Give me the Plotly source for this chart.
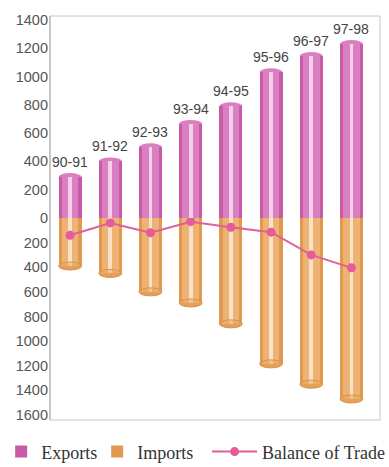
import plotly.graph_objects as go

years = ["90-91", "91-92", "92-93", "93-94", "94-95", "95-96", "96-97", "97-98"]
exports = [290, 400, 500, 665, 790, 1030, 1145, 1230]
imports = [390, 450, 600, 690, 860, 1185, 1350, 1470]
balance = [140, 40, 120, 30, 75, 115, 300, 405]   # deficit (plotted below zero)
top_ticks = [0, 200, 400, 600, 800, 1000, 1200, 1400]
bottom_ticks = [200, 400, 600, 800, 1000, 1200, 1400, 1600]

TOP_MAX = 1428
BOT_MAX = 1641
PANEL_PX = 202

x = list(range(len(years)))
W = 0.57

EXP_EDGE, EXP_MAIN, EXP_HI = "#c95aa6", "#da80c2", "#f4d0ea"
IMP_EDGE, IMP_MAIN, IMP_HI = "#e09a50", "#eeb274", "#fae2c8"

fig = go.Figure()

def cyl(vals, xa, ya, edge, main, hi, name):
    fig.add_trace(go.Bar(x=x, y=vals, width=W, marker=dict(color=edge, line=dict(width=0)),
                         xaxis=xa, yaxis=ya, name=name, showlegend=True, hoverinfo="skip",
                         legend="legend"))
    fig.add_trace(go.Bar(x=x, y=vals, width=W * 0.72, marker=dict(color=main, line=dict(width=0)),
                         xaxis=xa, yaxis=ya, showlegend=False, hoverinfo="skip"))
    fig.add_trace(go.Bar(x=x, y=vals, width=W * 0.16, marker=dict(color=hi, line=dict(width=0)),
                         xaxis=xa, yaxis=ya, showlegend=False, hoverinfo="skip"))

cyl(exports, "x", "y", EXP_EDGE, EXP_MAIN, EXP_HI, "Exports")
cyl(imports, "x2", "y2", IMP_EDGE, IMP_MAIN, IMP_HI, "Imports")

fig.add_trace(go.Scatter(x=x, y=balance, xaxis="x2", yaxis="y2", mode="lines+markers",
                         line=dict(color="#e0609a", width=2),
                         marker=dict(color="#e65b9a", size=9),
                         name="Balance of Trade", legend="legend2"))

shapes = []
d_top = 4 * TOP_MAX / PANEL_PX
d_bot = 4 * BOT_MAX / PANEL_PX
for i, v in enumerate(exports):
    shapes.append(dict(type="circle", xref="x", yref="y", layer="below",
                       x0=i - W / 2, x1=i + W / 2, y0=v - d_top, y1=v + d_top,
                       fillcolor=EXP_MAIN, line=dict(width=0)))
    shapes.append(dict(type="circle", xref="x", yref="y", layer="below",
                       x0=i - W / 2, x1=i + W / 2, y0=-d_top, y1=d_top,
                       fillcolor=EXP_MAIN, line=dict(width=0)))
for i, v in enumerate(imports):
    shapes.append(dict(type="circle", xref="x2", yref="y2", layer="below",
                       x0=i - W / 2, x1=i + W / 2, y0=v - d_bot, y1=v + d_bot,
                       fillcolor=IMP_EDGE, line=dict(width=0)))
    shapes.append(dict(type="circle", xref="x2", yref="y2", layer="above",
                       x0=i - W / 2, x1=i + W / 2, y0=v - d_bot, y1=v + d_bot,
                       fillcolor="rgba(232,166,96,0.5)", line=dict(width=1, color="#dc9446")))
shapes.append(dict(type="rect", xref="paper", yref="paper", x0=0, x1=1, y0=0, y1=1,
                   line=dict(color="#c8c8c8", width=1), layer="above"))
shapes.append(dict(type="line", xref="paper", yref="paper", x0=0, x1=0, y0=0, y1=1,
                   line=dict(color="#aaaaaa", width=1), layer="above"))

annotations = []
for i, (yr, v) in enumerate(zip(years, exports)):
    annotations.append(dict(x=i, y=v, xref="x", yref="y", text=yr, showarrow=False,
                            yanchor="bottom", yshift=5,
                            font=dict(family="Liberation Sans", size=14, color="#444")))

axis_font = dict(family="Liberation Sans", size=14.5, color="#555")
legend_font = dict(family="Liberation Serif", size=18, color="#333")
fig.update_layout(
    width=389, height=467,
    margin=dict(l=50, r=9, t=16, b=47, autoexpand=False),
    paper_bgcolor="white", plot_bgcolor="white",
    barmode="overlay", bargap=0,
    shapes=shapes, annotations=annotations,
    xaxis=dict(domain=[0, 1], range=[-0.5, 7.71], anchor="y", showticklabels=False,
               showgrid=False, zeroline=False, ticks=""),
    xaxis2=dict(domain=[0, 1], range=[-0.5, 7.71], anchor="y2", matches="x", showticklabels=False,
                showgrid=False, zeroline=False, ticks=""),
    yaxis=dict(domain=[0.5, 1], range=[0, TOP_MAX], tickvals=top_ticks, showgrid=False,
               zeroline=False, tickfont=axis_font, ticks="", ticklabelstandoff=1, automargin=False),
    yaxis2=dict(domain=[0, 0.5], range=[BOT_MAX, 0], tickvals=bottom_ticks, showgrid=False,
                zeroline=False, tickfont=axis_font, ticks="", ticklabelstandoff=1, automargin=False),
    legend=dict(orientation="h", x=-0.148, xanchor="left", y=-0.079, yanchor="middle",
                font=legend_font, bgcolor="rgba(0,0,0,0)", itemwidth=30,
                entrywidth=51, entrywidthmode="pixels"),
    legend2=dict(orientation="h", x=0.476, xanchor="left", y=-0.079, yanchor="middle",
                 font=legend_font, bgcolor="rgba(0,0,0,0)", itemwidth=45),
    showlegend=True,
)

fig.write_html("out.html")
